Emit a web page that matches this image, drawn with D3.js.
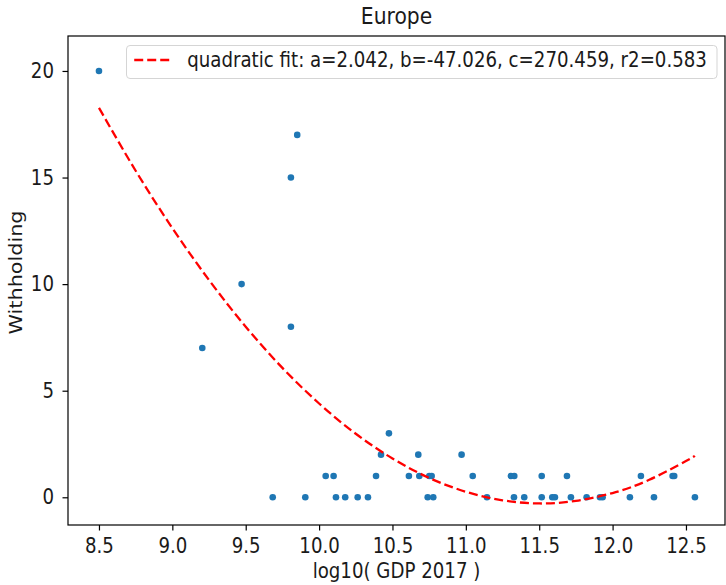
<!DOCTYPE html>
<html>
<head>
<meta charset="utf-8">
<script src="https://cdn.jsdelivr.net/npm/d3@7"></script>
<style>
  body { margin: 0; background: #fff; }
  text { font-family: "DejaVu Sans", sans-serif; fill: #1a1a1a; }
</style>
</head>
<body>
<svg id="chart" width="726" height="585"></svg>
<script>
// ---- data ----
const gdpLog = [
  8.5, 9.204, 9.472, 9.808, 9.808, 9.851,
  9.684, 9.906, 10.045, 10.099, 10.115, 10.178, 10.263, 10.333, 10.388, 10.422, 10.476,
  10.612, 10.676, 10.683, 10.740, 10.751, 10.767, 10.778, 10.971, 11.047, 11.144,
  11.307, 11.328, 11.330, 11.398, 11.517, 11.517, 11.589, 11.607, 11.689, 11.716,
  11.823, 11.914, 11.932, 12.118, 12.193, 12.282, 12.409, 12.420, 12.561
];
const withholding = [
  20, 7, 10, 15, 8, 17,
  0, 0, 1, 1, 0, 0, 0, 0, 1, 2, 3,
  1, 2, 1, 0, 1, 1, 0, 2, 1, 0,
  1, 0, 1, 0, 1, 0, 0, 0, 1, 0,
  0, 0, 0, 0, 1, 0, 1, 1, 0
];
// quadratic fit curve, sampled along x
const fitX = [8.5, 8.75, 9.0, 9.25, 9.5, 9.75, 10.0, 10.25, 10.5, 10.75, 11.0, 11.25, 11.5, 11.75, 12.0, 12.25, 12.5, 12.56];
const fitY = [18.27, 15.32, 12.63, 10.19, 8.00, 6.07, 4.40, 2.98, 1.82, 0.91, 0.26, -0.14, -0.29, -0.17, 0.20, 0.82, 1.70, 1.95];
const xTicks = [8.5, 9.0, 9.5, 10.0, 10.5, 11.0, 11.5, 12.0, 12.5];
const yTicks = [0, 5, 10, 15, 20];
const titleText = "Europe";
const xLabel = "log10( GDP 2017 )";
const yLabel = "Withholding";
const legendLabel = "quadratic fit: a=2.042, b=-47.026, c=270.459, r2=0.583";

// ---- layout ----
const svg = d3.select("#chart");
const L = 68, R = 725, T = 36, B = 525;
const fs = 18.2;       // label font size (horizontal metrics)
const sy = 1.14;       // vertical stretch of the reference raster
const dash = "9,4";

const x = d3.scaleLinear().domain([8.289, 12.766]).range([L, R]);
const y = d3.scaleLinear().domain([-1.30, 21.64]).range([B, T]);

// points
svg.append("g").selectAll("circle")
  .data(gdpLog.map((v, i) => [v, withholding[i]]))
  .join("circle")
  .attr("cx", d => x(d[0]))
  .attr("cy", d => y(d[1]))
  .attr("r", 3.3)
  .attr("fill", "#1f77b4");

// fit line
const line = d3.line().x(d => x(d[0])).y(d => y(d[1])).curve(d3.curveNatural);
svg.append("path")
  .datum(fitX.map((v, i) => [v, fitY[i]]))
  .attr("d", line)
  .attr("fill", "none")
  .attr("stroke", "#ff0000")
  .attr("stroke-width", 2.3)
  .attr("stroke-dasharray", dash);

// axes
const xAxis = d3.axisBottom(x).tickValues(xTicks).tickFormat(d3.format(".1f")).tickSize(5.5);
const yAxis = d3.axisLeft(y).tickValues(yTicks).tickFormat(d3.format("d")).tickSize(5.5).tickPadding(8.5);

const gx = svg.append("g").attr("transform", `translate(0,${B})`).call(xAxis);
const gy = svg.append("g").attr("transform", `translate(${L},0)`).call(yAxis);
[gx, gy].forEach(g => {
  g.select(".domain").remove();
  g.selectAll("line").attr("stroke", "#000").attr("stroke-width", 1.2);
  g.selectAll("text").attr("font-size", fs).attr("font-family", "DejaVu Sans").attr("fill", "#1a1a1a")
    .attr("transform", `scale(1,${sy})`);
});
gx.selectAll("text").attr("dy", 0).attr("y", 28 / sy);

// frame
svg.append("rect").attr("x", L).attr("y", T).attr("width", R - L).attr("height", B - T)
  .attr("fill", "none").attr("stroke", "#000").attr("stroke-width", 1.2);

// title & labels
svg.append("text").attr("transform", `translate(${(L + R) / 2},24) scale(1,${sy})`)
  .attr("text-anchor", "middle").attr("font-size", 20.3).text(titleText);
svg.append("text").attr("transform", `translate(${(L + R) / 2},578) scale(1,${sy})`)
  .attr("text-anchor", "middle").attr("font-size", fs).text(xLabel);
svg.append("text").attr("transform", `translate(22,${(T + B) / 2 - 8}) scale(1,${sy}) rotate(-90)`)
  .attr("text-anchor", "middle").attr("font-size", fs).text(yLabel);

// legend
const lg = svg.append("g");
const lt = lg.append("text").attr("font-size", fs).text(legendLabel);
const tw = lt.node().getComputedTextLength();
const padL = 7.7, padR = 10, handleLen = 37, handlePad = 16;
const boxW = padL + handleLen + handlePad + tw + padR;
const boxT = 45.5, boxH = 33;
const boxR = 717;
const boxL = boxR - boxW;
lg.insert("rect", "text").attr("x", boxL).attr("y", boxT).attr("width", boxW).attr("height", boxH)
  .attr("rx", 3.5).attr("fill", "#fff").attr("fill-opacity", 0.8).attr("stroke", "#d5d5d5").attr("stroke-width", 1);
lg.append("line").attr("x1", boxL + padL).attr("x2", boxL + padL + handleLen)
  .attr("y1", 60).attr("y2", 60)
  .attr("stroke", "#ff0000").attr("stroke-width", 2.3).attr("stroke-dasharray", dash);
lt.attr("x", 0).attr("y", 0)
  .attr("transform", `translate(${boxL + padL + handleLen + handlePad},67) scale(1,${sy})`);
</script>
</body>
</html>
